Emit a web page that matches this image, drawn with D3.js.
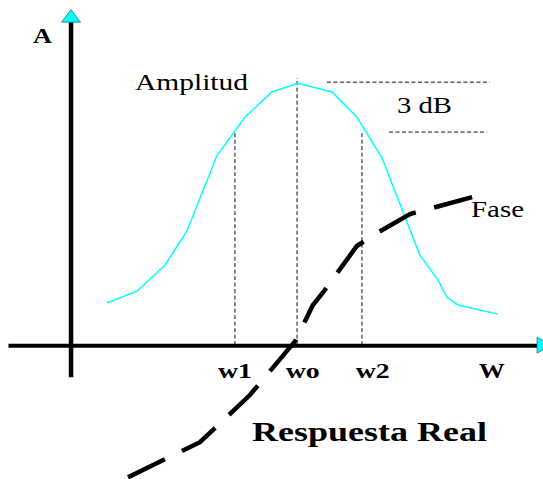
<!DOCTYPE html>
<html>
<head>
<meta charset="utf-8">
<script src="https://cdn.jsdelivr.net/npm/d3@7"></script>
<style>
  body { margin: 0; background: #fff; }
  svg { display: block; }
  text { font-family: "Times New Roman", "Liberation Serif", Times, serif; fill: #000; }
</style>
</head>
<body>
<svg id="grafico"></svg>
<script>
// amplitude curve (frequency units, amplitude units)
const ampW = [7.7, 14.1, 20.1, 24.8, 31.3, 37.3, 43.0, 48.6, 55.9, 61.2, 66.6, 74.7, 78.6, 80.5, 82.9, 91.4];
const ampA = [12.5, 16.0, 23.7, 33.8, 56.4, 67.7, 75.1, 77.7, 75.1, 67.7, 55.5, 26.7, 19.3, 14.2, 11.9, 9.2];

// phase curve
const faseW = [12.2, 27.6, 38.3, 48.0, 51.8, 54.0, 61.2, 65.1, 72.6, 85.9];
const faseA = [-39.2, -28.8, -14.8, 1.2, 11.9, 15.7, 29.4, 32.9, 38.9, 43.9];

// frequency marks: w1, wo, w2 and where the dashed guides stop
const marcas = ['w1', 'wo', 'w2'];
const marcaW = [35.1, 48.4, 62.3];
const marcaTopo = [62.9, 79.2, 63.5];

// tick labels on the W axis
const rotulos = ['w1', 'wo', 'w2', 'W'];
const rotuloW = [35.0, 49.5, 64.5, 90.0];

// the 3 dB band
const nivel3dB = [78.0, 63.2];
const inicio3dB = [54.8, 68.1];
const fim3dB = [89.7, 89.1];

const largura = 543, altura = 479;
const svg = d3.select('#grafico').attr('width', largura).attr('height', altura);

const x = d3.scaleLinear().domain([-13.5, 100]).range([8, 538]);
const y = d3.scaleLinear().domain([-40, 100]).range([480, 8]);

const linha = d3.line().x(d => x(d[0])).y(d => y(d[1]));

// horizontal axis with its labels
const eixoX = d3.axisBottom(x)
  .tickValues(rotuloW)
  .tickFormat((d, i) => rotulos[i])
  .tickSize(0)
  .tickPadding(17);
const gX = svg.append('g')
  .attr('transform', 'translate(0,' + y(0) + ')')
  .call(eixoX);
gX.select('.domain').attr('stroke', '#000').attr('stroke-width', 4);
gX.selectAll('.tick text')
  .attr('font-size', 22)
  .attr('font-weight', 'bold')
  .attr('fill', '#000')
  .attr('textLength', (d, i) => i === 3 ? 26 : 34)
  .attr('lengthAdjust', 'spacingAndGlyphs');

// vertical axis
svg.append('path')
  .attr('d', linha([[0, -9.5], [0, 95.8]]))
  .attr('stroke', '#000').attr('stroke-width', 4.5).attr('fill', 'none');

// arrow heads
svg.append('path')
  .attr('d', 'M' + (x(0) - 9.5) + ',' + y(95.8) + 'L' + x(0) + ',' + y(99.5) + 'L' + (x(0) + 9.5) + ',' + y(95.8) + 'Z')
  .attr('fill', '#00ffff').attr('stroke', '#2a6f7a').attr('stroke-width', 0.8);
svg.append('path')
  .attr('d', 'M' + x(99.8) + ',' + (y(0) - 8) + 'L' + (x(99.8) + 14) + ',' + y(0) + 'L' + x(99.8) + ',' + (y(0) + 8) + 'Z')
  .attr('fill', '#00ffff').attr('stroke', '#2a6f7a').attr('stroke-width', 0.8);

// dashed guides at w1, wo, w2
svg.selectAll('.guia').data(marcas).enter().append('path').classed('guia', true)
  .attr('d', (d, i) => linha([[marcaW[i], 0], [marcaW[i], marcaTopo[i]]]))
  .attr('stroke', '#111').attr('stroke-width', 1).attr('stroke-dasharray', '4,2.5').attr('fill', 'none');

// 3 dB dashed levels
svg.selectAll('.db').data(nivel3dB).enter().append('path').classed('db', true)
  .attr('d', (d, i) => linha([[inicio3dB[i], d], [fim3dB[i], d]]))
  .attr('stroke', '#111').attr('stroke-width', 1).attr('stroke-dasharray', '4,2.5').attr('fill', 'none');

// amplitude
svg.append('path')
  .attr('d', linha(ampW.map((w, i) => [w, ampA[i]])))
  .attr('stroke', '#00ffff').attr('stroke-width', 1.5).attr('fill', 'none');

// phase
svg.append('path')
  .attr('d', linha(faseW.map((w, i) => [w, faseA[i]])))
  .attr('stroke', '#000').attr('stroke-width', 4.5).attr('fill', 'none')
  .attr('stroke-dasharray', '41,19');

// texts
function texto(t, px, py, tam, peso, comp) {
  svg.append('text')
    .attr('x', px).attr('y', py)
    .attr('font-size', tam).attr('font-weight', peso)
    .attr('textLength', comp).attr('lengthAdjust', 'spacingAndGlyphs')
    .text(t);
}
texto('A', 33, 43, 22, 'bold', 19);
texto('Amplitud', 135, 90, 23, 'normal', 113);
texto('3 dB', 397, 113, 24, 'normal', 55);
texto('Fase', 471, 217, 23, 'normal', 53);
texto('Respuesta Real', 252, 441, 27, 'bold', 235);
</script>
</body>
</html>
